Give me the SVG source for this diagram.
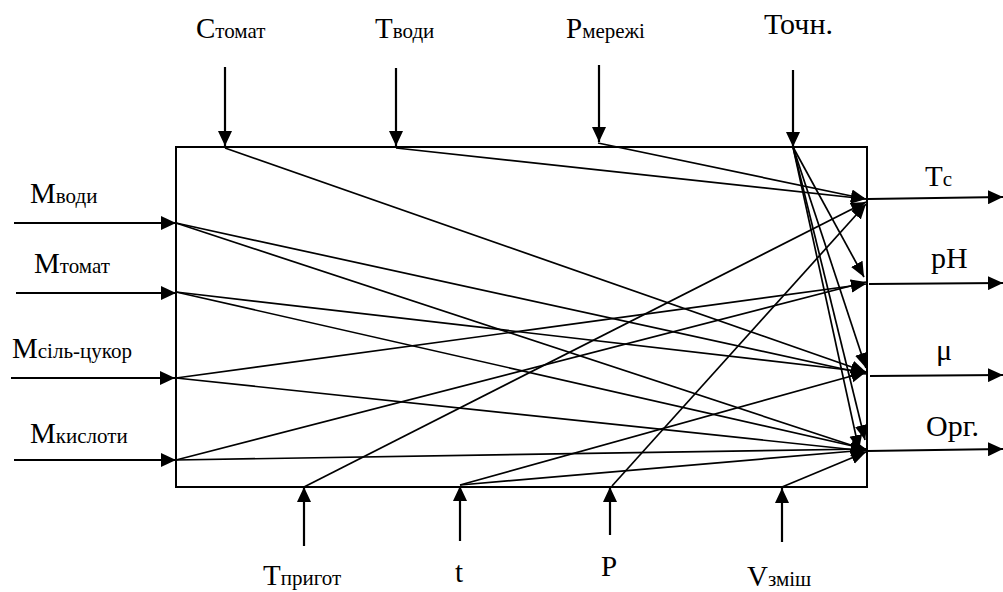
<svg xmlns="http://www.w3.org/2000/svg" width="1003" height="592" viewBox="0 0 1003 592">
<style>
text{font-family:'Liberation Serif','DejaVu Serif',serif;font-size:29px;fill:#000}
.sub{font-size:21px}
.big{font-size:30px}
.ext{stroke:#000;stroke-width:2.2;fill:none}
.int{stroke:#000;stroke-width:1.7;fill:none}
</style>
<defs>
<marker id="ah" markerUnits="userSpaceOnUse" markerWidth="16" markerHeight="14" refX="15" refY="7" orient="auto">
<path d="M0,0 L15,7 L0,14 z" fill="#000"/>
</marker>
<marker id="ai" markerUnits="userSpaceOnUse" markerWidth="16" markerHeight="14" refX="15" refY="6.5" orient="auto">
<path d="M0,0 L15,6.5 L0,13 z" fill="#000"/>
</marker>
</defs>
<rect width="1003" height="592" fill="#fff"/>
<g id="process">
<rect x="176" y="147" width="691" height="340" fill="none" stroke="#000" stroke-width="2"/>
</g>
<g id="labels" font-family="Liberation Serif, serif">
<text x="196" y="38">C<tspan class="sub">томат</tspan></text>
<text x="375" y="38">T<tspan class="sub">води</tspan></text>
<text x="566" y="38">P<tspan class="sub">мережі</tspan></text>
<text class="big" x="764" y="34">Точн.</text>
<text x="30" y="203">M<tspan class="sub">води</tspan></text>
<text x="34" y="273">M<tspan class="sub">томат</tspan></text>
<text x="12" y="358">M<tspan class="sub">сіль-цукор</tspan></text>
<text x="30" y="443">M<tspan class="sub">кислоти</tspan></text>
<text x="925" y="186">T<tspan class="sub">c</tspan></text>
<text class="big" x="931" y="268">pH</text>
<text class="big" x="936" y="360">μ</text>
<text class="big" x="926" y="436">Орг.</text>
<text x="263" y="585">T<tspan class="sub">пригот</tspan></text>
<text x="455" y="582">t</text>
<text x="601" y="576">P</text>
<text x="747" y="586">V<tspan class="sub">зміш</tspan></text>
</g>
<g id="connectors">
<line class="ext" x1="225" y1="67" x2="225" y2="146" marker-end="url(#ah)"/>
<line class="ext" x1="396" y1="68" x2="396" y2="146" marker-end="url(#ah)"/>
<line class="ext" x1="599" y1="65" x2="599" y2="142" marker-end="url(#ah)"/>
<line class="ext" x1="793" y1="70" x2="793" y2="147" marker-end="url(#ah)"/>
<line class="ext" x1="14" y1="223" x2="176" y2="223" marker-end="url(#ah)"/>
<line class="ext" x1="16" y1="293" x2="176" y2="293" marker-end="url(#ah)"/>
<line class="ext" x1="11" y1="378" x2="175" y2="378" marker-end="url(#ah)"/>
<line class="ext" x1="14" y1="460" x2="176" y2="460" marker-end="url(#ah)"/>
<line class="ext" x1="868" y1="199" x2="1003" y2="197" marker-end="url(#ah)"/>
<line class="ext" x1="869" y1="284" x2="1003" y2="283" marker-end="url(#ah)"/>
<line class="ext" x1="870" y1="376" x2="1003" y2="375" marker-end="url(#ah)"/>
<line class="ext" x1="867" y1="451" x2="1003" y2="449" marker-end="url(#ah)"/>
<line class="ext" x1="304" y1="546" x2="304" y2="487" marker-end="url(#ah)"/>
<line class="ext" x1="460" y1="541" x2="460" y2="486" marker-end="url(#ah)"/>
<line class="ext" x1="610" y1="535" x2="610" y2="487" marker-end="url(#ah)"/>
<line class="ext" x1="782" y1="542" x2="782" y2="488" marker-end="url(#ah)"/>
<line class="int" x1="225" y1="148" x2="866" y2="372" marker-end="url(#ai)"/>
<line class="int" x1="396" y1="148" x2="866" y2="199" marker-end="url(#ai)"/>
<line class="int" x1="598" y1="143" x2="866" y2="199" marker-end="url(#ai)"/>
<line class="int" x1="793" y1="147" x2="864" y2="277" marker-end="url(#ai)"/>
<line class="int" x1="793" y1="147" x2="866" y2="368" marker-end="url(#ai)"/>
<line class="int" x1="793" y1="147" x2="865" y2="440" marker-end="url(#ai)"/>
<line class="int" x1="793" y1="147" x2="859" y2="450" marker-end="url(#ai)"/>
<line class="int" x1="176" y1="223" x2="866" y2="374" marker-end="url(#ai)"/>
<line class="int" x1="176" y1="223" x2="866" y2="450" marker-end="url(#ai)"/>
<line class="int" x1="176" y1="292" x2="866" y2="372" marker-end="url(#ai)"/>
<line class="int" x1="176" y1="292" x2="866" y2="449" marker-end="url(#ai)"/>
<line class="int" x1="176" y1="378" x2="866" y2="284" marker-end="url(#ai)"/>
<line class="int" x1="176" y1="378" x2="866" y2="451" marker-end="url(#ai)"/>
<line class="int" x1="176" y1="460" x2="866" y2="282" marker-end="url(#ai)"/>
<line class="int" x1="176" y1="460" x2="866" y2="449" marker-end="url(#ai)"/>
<line class="int" x1="304" y1="487" x2="866" y2="202" marker-end="url(#ai)"/>
<line class="int" x1="460" y1="485" x2="866" y2="372" marker-end="url(#ai)"/>
<line class="int" x1="460" y1="485" x2="866" y2="450" marker-end="url(#ai)"/>
<line class="int" x1="612" y1="486" x2="866" y2="204" marker-end="url(#ai)"/>
<line class="int" x1="782" y1="487" x2="866" y2="452" marker-end="url(#ai)"/>
</g>
</svg>
